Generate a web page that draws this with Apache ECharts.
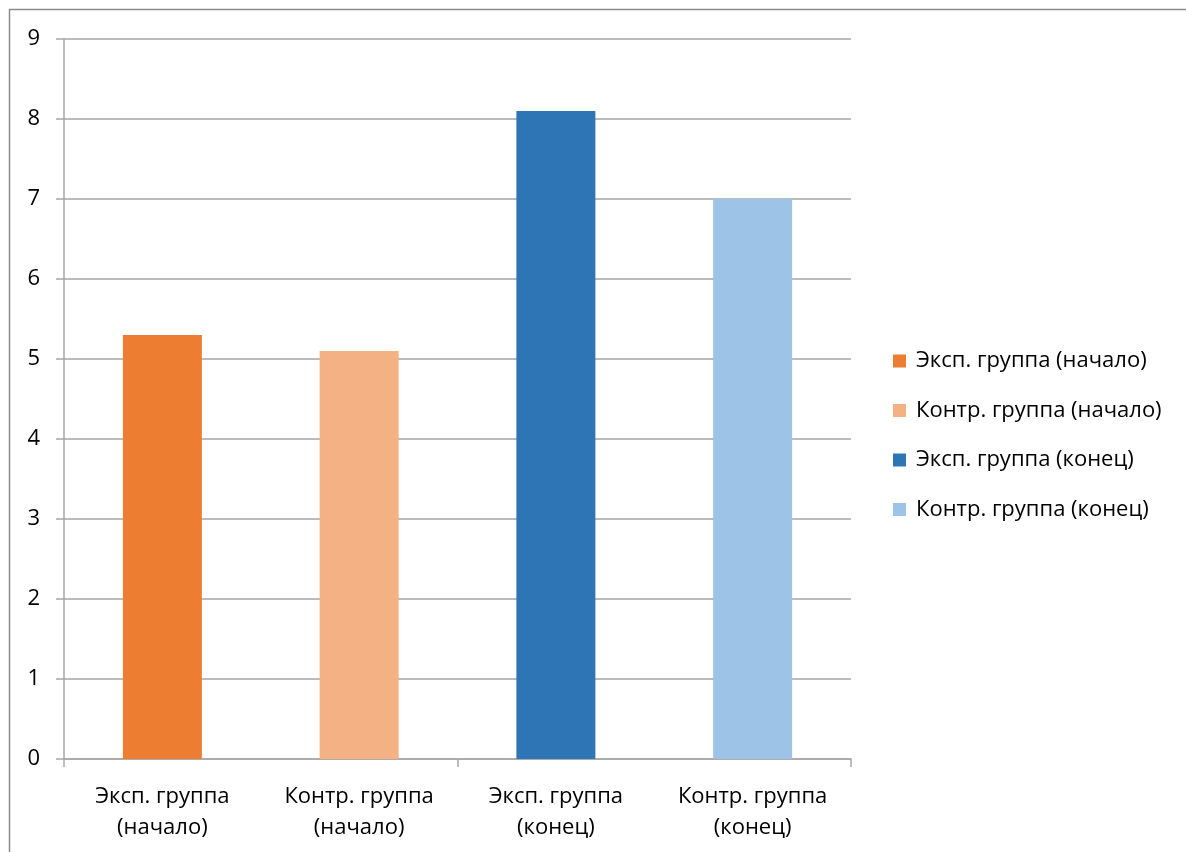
<!DOCTYPE html>
<html>
<head>
<meta charset="utf-8">
<style>
  html, body { margin: 0; padding: 0; background: #fff; }
  #chart { width: 1186px; height: 852px; }
</style>
<script src="https://cdn.jsdelivr.net/npm/echarts@6/dist/echarts.min.js"></script>
</head>
<body>
<div id="chart"></div>
<script>
// Group labels along the category axis (two lines each)
const categories = [
  'Эксп. группа\n(начало)',
  'Контр. группа\n(начало)',
  'Эксп. группа\n(конец)',
  'Контр. группа\n(конец)'
];
// Series names shown in the legend
const seriesNames = [
  'Эксп. группа (начало)',
  'Контр. группа (начало)',
  'Эксп. группа (конец)',
  'Контр. группа (конец)'
];
// Mean score of each group
const values = [5.3, 5.1, 8.1, 7.0];
const colors = ['#ED7D31', '#F4B183', '#2E75B6', '#9DC3E6'];
// Tick marks on the category axis separate the two halves (start / end)
const phases = ['начало', 'конец'];

const FONT = '"Open Sans", "Noto Sans", sans-serif';
const AXIS_GRAY = '#a6a6a6';

// Each group is its own series so it gets its own legend entry;
// the value is placed at that group's category, other slots stay empty.
const series = seriesNames.map((name, i) => ({
  name: name,
  type: 'bar',
  stack: 'groups',
  barWidth: 79,
  xAxisIndex: 0,
  itemStyle: { color: colors[i] },
  data: categories.map((_, j) => (j === i ? values[i] : '-'))
}));

const chart = echarts.init(document.getElementById('chart'), null, { renderer: 'canvas' });
chart.setOption({
  animation: false,
  backgroundColor: '#fff',
  graphic: [{
    type: 'rect',
    shape: { x: 9.5, y: 9.5, width: 1300, height: 1000 },
    style: { fill: 'none', stroke: '#8c8c8c', lineWidth: 1.5 },
    silent: true
  }],
  grid: { left: 64, right: 335, top: 39, bottom: 93, containLabel: false },
  legend: {
    orient: 'vertical',
    left: 893,
    top: 350,
    padding: 0,
    itemWidth: 13,
    itemHeight: 13,
    itemGap: 27.5,
    icon: 'rect',
    textStyle: { fontFamily: FONT, fontSize: 22, color: '#000', padding: [0, 0, 0, 5] },
    data: seriesNames
  },
  xAxis: [{
    type: 'category',
    data: categories,
    axisLine: { lineStyle: { color: AXIS_GRAY, width: 1.5 } },
    axisTick: { show: false },
    axisLabel: {
      interval: 0,
      margin: 22,
      fontFamily: FONT,
      fontSize: 22,
      color: '#000',
      lineHeight: 31
    }
  }, {
    type: 'category',
    position: 'bottom',
    data: phases,
    axisLine: { show: false },
    axisTick: { show: true, length: 8, lineStyle: { color: AXIS_GRAY, width: 1.5 } },
    axisLabel: { show: false },
    splitLine: { show: false }
  }],
  yAxis: {
    type: 'value',
    min: 0,
    max: 9,
    interval: 1,
    axisLine: { show: true, lineStyle: { color: AXIS_GRAY, width: 1.5 } },
    axisTick: { show: true, length: 8, lineStyle: { color: AXIS_GRAY, width: 1.5 } },
    splitLine: { lineStyle: { color: AXIS_GRAY, width: 1.5 } },
    axisLabel: { margin: 24, fontFamily: FONT, fontSize: 22, color: '#000' }
  },
  series: series
});
</script>
</body>
</html>
